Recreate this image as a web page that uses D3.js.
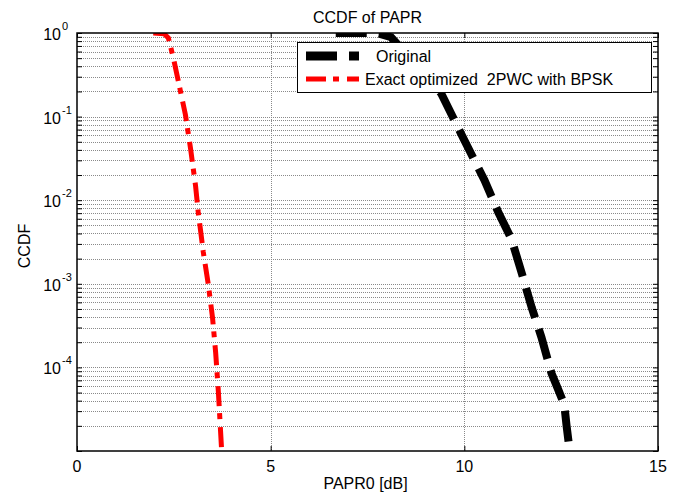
<!DOCTYPE html>
<head>
  <meta charset="utf-8">
  <style>
    body { margin: 0; background: #fff; overflow: hidden; }
    svg { display: block; }
    text { font-family: 'Liberation Sans', Arial, sans-serif; fill: #000; white-space: pre; }
    .grid line { stroke: #8a8a8a; stroke-width: 1; stroke-dasharray: 1,1; }
  </style>
</head>
<body>
  <script src="https://cdn.jsdelivr.net/npm/d3@7"></script>
  <script>
    // chart values
    const origPapr = [6.68, 7.5, 7.8, 8.11, 8.6, 9.4, 10.0, 10.52, 10.88, 11.22, 11.48, 11.74, 11.99, 12.25, 12.44, 12.58, 12.64, 12.72];
    const origCcdf = [1, 1, 0.98, 0.89, 0.5, 0.19, 0.052, 0.0174, 0.0071, 0.0034, 0.00135, 0.00052, 0.00023, 0.000085, 0.000052, 0.000036, 0.00002, 0.00001];
    const optPapr = [1.97, 2.25, 2.36, 2.49, 2.62, 2.8, 2.93, 3.06, 3.13, 3.26, 3.39, 3.5, 3.58, 3.65, 3.73, 3.75];
    const optCcdf = [1, 0.98, 0.87, 0.5, 0.26, 0.105, 0.042, 0.015, 0.0072, 0.0024, 0.00098, 0.00039, 0.00015, 0.000051, 0.000011, 0.00001];
    const xTicks = [0, 5, 10, 15];
    const decades = [0, -1, -2, -3, -4];
    const legendLabels = ["Original", "Exact optimized  2PWC with BPSK"];

    const width = 682, height = 495;
    const margin = {top: 33, right: 24, bottom: 44, left: 77};
    const innerWidth = width - margin.left - margin.right;
    const innerHeight = height - margin.top - margin.bottom;

    const svg = d3.select("body").append("svg")
      .attr("width", width).attr("height", height);
    const g = svg.append("g")
      .attr("transform", "translate(" + margin.left + "," + margin.top + ")");

    const x = d3.scaleLinear().domain([0, 15]).range([0, innerWidth]);
    const y = d3.scaleLog().domain([1e-5, 1]).range([innerHeight, 0]);

    // all log ticks 1..9 x 10^k
    let yTicks = [];
    for (let k = -5; k < 0; k++)
      for (let m = 1; m < 10; m++) yTicks.push(m * Math.pow(10, k));
    yTicks.push(1);

    // grid
    const grid = g.append("g").attr("class", "grid");
    grid.selectAll(".hg").data(yTicks.filter(v => v > 1.5e-5 && v < 0.99)).enter().append("line")
      .attr("x1", 0).attr("x2", innerWidth)
      .attr("y1", d => Math.round(y(d)) + 0.5).attr("y2", d => Math.round(y(d)) + 0.5);
    grid.selectAll(".vg").data([5, 10]).enter().append("line")
      .attr("y1", 0).attr("y2", innerHeight)
      .attr("x1", d => Math.round(x(d)) + 0.5).attr("x2", d => Math.round(x(d)) + 0.5);

    // curves
    g.append("clipPath").attr("id", "clip").append("rect")
      .attr("width", innerWidth).attr("height", innerHeight);
    const line = d3.line().x(d => x(d[0])).y(d => y(d[1]));
    const curves = g.append("g").attr("clip-path", "url(#clip)");
    curves.append("path")
      .datum(d3.zip(origPapr, origCcdf))
      .attr("d", line).attr("fill", "none")
      .attr("stroke", "#000").attr("stroke-width", 8)
      .attr("stroke-dasharray", "31,12");
    curves.append("path")
      .datum(d3.zip(optPapr, optCcdf))
      .attr("d", line).attr("fill", "none")
      .attr("stroke", "#ff0000").attr("stroke-width", 5)
      .attr("stroke-dasharray", "20,7,6,8");

    // ticks pointing inward on all four sides
    const tickStyle = sel => {
      sel.select(".domain").remove();
      sel.selectAll("line").attr("stroke", "#000");
      sel.selectAll("text").remove();
    };
    g.append("g").attr("transform", "translate(0," + innerHeight + ")")
      .call(d3.axisBottom(x).tickValues(xTicks).tickSize(-5)).call(tickStyle);
    g.append("g")
      .call(d3.axisTop(x).tickValues(xTicks).tickSize(-5)).call(tickStyle);
    g.append("g")
      .call(d3.axisLeft(y).tickValues(yTicks).tickSize(-5)).call(tickStyle);
    g.append("g").attr("transform", "translate(" + innerWidth + ",0)")
      .call(d3.axisRight(y).tickValues(yTicks).tickSize(-5)).call(tickStyle);

    g.append("rect").attr("width", innerWidth).attr("height", innerHeight)
      .attr("fill", "none").attr("stroke", "#000").attr("stroke-width", 1.5);

    // tick labels
    g.selectAll(".xl").data(xTicks).enter().append("text")
      .attr("x", d => x(d)).attr("y", innerHeight + 21)
      .attr("text-anchor", "middle").style("font-size", "16px")
      .text(d => d);
    const yl = g.selectAll(".yl").data(decades).enter().append("g")
      .attr("transform", d => "translate(0," + y(Math.pow(10, d)) + ")");
    yl.append("text").attr("x", -16).attr("y", 7)
      .attr("text-anchor", "end").style("font-size", "16px").text("10");
    yl.append("text").attr("x", -15).attr("y", -3)
      .style("font-size", "11px").text(d => d);

    // titles
    svg.append("text").attr("x", margin.left + innerWidth / 2).attr("y", 23)
      .attr("text-anchor", "middle").style("font-size", "16px").text("CCDF of PAPR");
    svg.append("text").attr("x", margin.left + innerWidth / 2 - 2).attr("y", 489)
      .attr("text-anchor", "middle").style("font-size", "16px").text("PAPR0 [dB]");
    svg.append("text").attr("transform", "translate(30,246) rotate(-90)")
      .attr("text-anchor", "middle").style("font-size", "16px").text("CCDF");

    // legend
    const lg = svg.append("g");
    lg.append("rect").attr("x", 297.5).attr("y", 42.5).attr("width", 354).attr("height", 50)
      .attr("fill", "#fff").attr("stroke", "#000").attr("stroke-width", 1);
    lg.append("line").attr("x1", 306).attr("x2", 359).attr("y1", 56).attr("y2", 56)
      .attr("stroke", "#000").attr("stroke-width", 9).attr("stroke-dasharray", "31,12");
    lg.append("line").attr("x1", 306).attr("x2", 359).attr("y1", 79).attr("y2", 79)
      .attr("stroke", "#ff0000").attr("stroke-width", 5).attr("stroke-dasharray", "20,7,6,8");
    lg.append("text").attr("x", 376).attr("y", 62).style("font-size", "16px").text(legendLabels[0]);
    lg.append("text").attr("x", 365).attr("y", 85).style("font-size", "16px").text(legendLabels[1]);
  </script>
</body>
